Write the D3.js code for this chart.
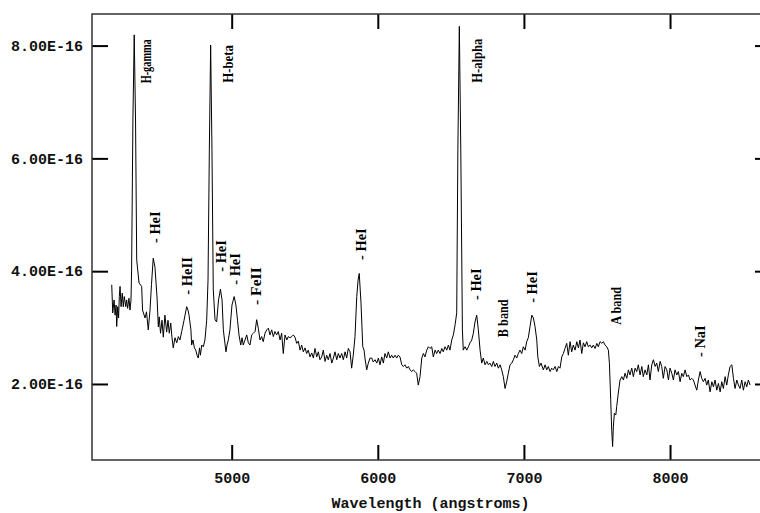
<!DOCTYPE html>
<html>
<head>
<meta charset="utf-8">
<script src="https://cdn.jsdelivr.net/npm/d3@7/dist/d3.min.js"></script>
<style>
  html, body { margin: 0; padding: 0; background: #fff; }
  svg { display: block; }
</style>
</head>
<body>
<svg id="chart" width="760" height="513"></svg>
<script>
// ---- DATA ----
// Wavelength (angstroms)
const wavelengths = [
4179,4186,4195,4202,4209,4213,4220,4226,4231,4236,4243,4251,4258,4265,4275,4281,4288,4297,4304,4311,
4315,4324,4333,4342,4350,4366,4384,4390,4407,4417,4429,4441,4451,4463,4475,4489,4498,4504,4513,4523,
4532,4543,4555,4564,4573,4583,4591,4600,4612,4624,4635,4646,4658,4674,4692,4701,4708,4721,4726,4735,
4745,4754,4763,4771,4780,4786,4795,4806,4817,4829,4838,4847,4856,4865,4874,4886,4897,4910,4923,4934,
4943,4951,4961,4968,4977,4988,5002,5017,5029,5040,5050,5062,5071,5079,5091,5103,5114,5125,5137,5149,
5160,5171,5182,5194,5205,5216,5228,5240,5251,5262,5274,5285,5296,5308,5319,5331,5342,5353,5365,5377,
5387,5399,5411,5422,5433,5445,5456,5468,5479,5490,5502,5513,5524,5536,5548,5559,5570,5582,5593,5604,
5616,5627,5639,5650,5661,5673,5685,5696,5707,5719,5730,5741,5753,5764,5776,5787,5798,5810,5821,5832,
5844,5856,5865,5873,5885,5897,5906,5912,5924,5935,5947,5958,5969,5981,5993,6004,6015,6027,6038,6049,
6061,6072,6084,6095,6106,6118,6129,6140,6152,6164,6175,6186,6198,6209,6221,6232,6243,6255,6266,6277,
6289,6301,6312,6323,6335,6346,6357,6369,6380,6392,6403,6414,6426,6438,6448,6460,6472,6483,6494,6506,
6517,6529,6540,6548,6558,6568,6579,6585,6597,6609,6620,6631,6643,6654,6665,6677,6688,6700,6711,6722,
6734,6746,6757,6768,6780,6791,6802,6814,6825,6837,6848,6859,6871,6882,6893,6905,6917,6928,6939,6951,
6962,6973,6985,6996,7008,7019,7030,7042,7054,7065,7076,7088,7095,7106,7117,7133,7145,7156,7167,7179,
7190,7201,7213,7225,7236,7247,7259,7270,7281,7293,7304,7316,7327,7338,7350,7362,7373,7384,7396,7407,
7418,7430,7441,7453,7464,7475,7487,7499,7509,7521,7533,7544,7555,7567,7578,7585,7594,7601,7607,7612,
7619,7629,7635,7646,7658,7670,7681,7692,7704,7715,7726,7738,7749,7761,7772,7783,7795,7807,7817,7829,
7841,7852,7863,7875,7886,7898,7909,7920,7932,7943,7954,7966,7978,7989,8000,8012,8023,8034,8046,8057,
8069,8080,8091,8103,8115,8126,8137,8149,8160,8171,8183,8194,8206,8217,8228,8240,8251,8262,8274,8286,
8297,8308,8320,8331,8343,8354,8365,8377,8388,8399,8411,8423,8434,8445,8457,8468,8479,8491,8502,8514,
8525,8536,8548
];
// Flux, in units of 1e-16
const fluxes = [
3.76,3.26,3.49,3.22,3.40,3.02,3.37,3.17,3.55,3.73,3.37,3.61,3.37,3.55,3.37,3.49,3.34,3.52,3.31,3.49,
4.02,6.68,8.19,6.68,4.20,3.79,3.73,3.31,3.17,3.28,2.96,3.31,3.76,4.23,4.07,3.54,3.01,3.19,2.90,3.13,
2.83,3.22,2.92,3.13,2.90,3.08,2.83,2.64,2.82,2.73,2.84,2.78,2.93,3.13,3.37,3.31,3.22,2.96,2.69,2.78,
2.64,2.60,2.51,2.46,2.64,2.51,2.69,2.66,2.78,3.13,3.84,6.15,8.01,6.15,3.67,3.14,3.10,3.49,3.68,3.49,
2.96,2.78,2.57,2.69,2.78,2.96,3.40,3.55,3.40,3.13,2.87,2.69,2.82,2.69,2.78,2.87,2.73,2.69,2.87,2.90,
2.93,3.14,2.99,2.78,2.84,2.75,2.90,2.96,2.99,2.87,2.96,2.84,2.93,2.87,2.93,2.78,2.90,2.54,2.87,2.78,
2.84,2.82,2.84,2.87,2.83,2.72,2.76,2.60,2.69,2.57,2.64,2.54,2.60,2.48,2.55,2.46,2.63,2.48,2.57,2.43,
2.48,2.60,2.40,2.51,2.43,2.54,2.37,2.46,2.57,2.43,2.54,2.46,2.54,2.43,2.57,2.46,2.63,2.57,2.28,2.51,
2.84,3.55,3.84,3.96,3.44,2.66,2.60,2.46,2.25,2.37,2.46,2.46,2.39,2.43,2.37,2.46,2.34,2.48,2.37,2.54,
2.46,2.57,2.46,2.51,2.46,2.51,2.46,2.51,2.48,2.34,2.31,2.34,2.28,2.31,2.25,2.22,2.25,2.22,2.19,1.98,
2.13,2.46,2.54,2.48,2.60,2.66,2.63,2.66,2.48,2.60,2.54,2.60,2.54,2.63,2.57,2.66,2.60,2.69,2.60,2.78,
2.87,3.05,3.26,6.15,8.34,6.15,2.96,2.60,2.66,2.60,2.66,2.73,2.78,2.90,3.10,3.22,2.96,2.60,2.37,2.46,
2.34,2.40,2.34,2.37,2.31,2.40,2.31,2.37,2.28,2.34,2.25,2.13,1.92,2.04,2.19,2.34,2.37,2.43,2.51,2.46,
2.54,2.60,2.54,2.66,2.60,2.75,2.82,3.02,3.22,3.17,3.02,2.78,2.48,2.31,2.37,2.25,2.34,2.25,2.31,2.22,
2.28,2.25,2.31,2.22,2.31,2.28,2.48,2.54,2.63,2.72,2.51,2.75,2.57,2.69,2.60,2.75,2.64,2.78,2.54,2.73,
2.66,2.75,2.66,2.69,2.64,2.69,2.63,2.72,2.66,2.75,2.72,2.75,2.69,2.66,2.60,2.37,1.72,1.18,0.89,1.24,
1.48,1.45,1.60,1.84,2.07,2.13,2.07,2.19,2.10,2.25,2.16,2.28,2.13,2.28,2.22,2.34,2.16,2.31,2.13,2.25,
2.16,2.34,2.07,2.34,2.43,2.31,2.37,2.22,2.40,2.31,2.10,2.31,2.25,2.07,2.28,2.19,2.07,2.25,2.16,2.22,
2.04,2.19,2.13,2.25,2.13,2.16,2.07,2.10,2.07,1.98,1.89,2.07,2.22,2.10,2.04,2.10,1.98,2.07,1.86,2.04,
1.95,2.07,1.89,2.01,1.86,2.04,1.92,2.13,1.98,2.16,2.31,2.34,2.10,1.92,2.07,1.98,1.92,2.07,1.89,2.04,
1.95,2.07,1.98
];

// Line identifications: text, wavelength of label centre, flux at label start
const lineLabels = ["H-gamma","- HeI","- HeII","H-beta","- HeI","- HeI","- FeII","- HeI","H-alpha","- HeI","B band","- HeI","A band","- NaI"];
const labelWavelengths = [4417,4478,4697,4978,4930,5023,5166,5882,6679,6672,6857,7056,7631,8206];
const labelFluxes = [7.33,4.50,3.58,7.34,3.99,3.76,3.40,4.20,7.34,3.49,2.83,3.44,3.05,2.48];

const xTicks = [5000,6000,7000,8000];
const xTickLabels = ["5000","6000","7000","8000"];
const yTicks = [2,4,6,8];
const yTickLabels = ["2.00E-16","4.00E-16","6.00E-16","8.00E-16"];
const xTitle = "Wavelength (angstroms)";

// ---- LAYOUT ----
const svg = d3.select("#chart");
const W = 760, H = 513;
const mL = 92, mT = 14, mR = 771, mB = 460;

svg.append("rect").attr("width", W).attr("height", H).attr("fill", "#fff");

const x = d3.scaleLinear().domain([4044, 8691]).range([mL, mR]);
const y = d3.scaleLinear().domain([0.652, 8.56]).range([mB, mT]);

const tickFont = "'Liberation Mono', 'DejaVu Sans Mono', monospace";

// Axes (inward ticks on all four sides)
const gB = svg.append("g").attr("transform", `translate(0,${mB})`)
  .call(d3.axisBottom(x).tickValues(xTicks).tickSize(-15).tickPadding(12)
        .tickFormat((d, i) => xTickLabels[i]));
const gT = svg.append("g").attr("transform", `translate(0,${mT})`)
  .call(d3.axisTop(x).tickValues(xTicks).tickSize(-15).tickFormat(""));
const gL = svg.append("g").attr("transform", `translate(${mL},0)`)
  .call(d3.axisLeft(y).tickValues(yTicks).tickSize(-16).tickPadding(9)
        .tickFormat((d, i) => yTickLabels[i]));
const gR = svg.append("g").attr("transform", `translate(${mR},0)`)
  .call(d3.axisRight(y).tickValues(yTicks).tickSize(-16).tickFormat(""));

[gB, gT, gL, gR].forEach(g => {
  g.select(".domain").remove();
  g.selectAll(".tick line").attr("stroke", "#000").attr("stroke-width", 2);
  g.selectAll(".tick text")
    .attr("fill", "#111")
    .style("font-family", tickFont)
    .style("font-weight", "bold")
    .style("font-size", "15px");
});

// Frame
svg.append("rect")
  .attr("x", mL).attr("y", mT)
  .attr("width", mR - mL).attr("height", mB - mT)
  .attr("fill", "none").attr("stroke", "#333").attr("stroke-width", 1.5);

// Spectrum
const n = Math.min(wavelengths.length, fluxes.length);
const pts = wavelengths.slice(0, n).map((w, i) => [w, fluxes[i]]);
svg.append("path")
  .datum(pts)
  .attr("fill", "none")
  .attr("stroke", "#000")
  .attr("stroke-width", 1)
  .attr("stroke-linejoin", "round")
  .attr("d", d3.line().x(d => x(d[0])).y(d => y(d[1])));

// Line labels (rotated, reading bottom to top)
lineLabels.forEach((t, i) => {
  svg.append("text")
    .attr("transform", `translate(${x(labelWavelengths[i])},${y(labelFluxes[i])}) rotate(-90)`)
    .attr("dy", "0.33em")
    .attr("text-anchor", "start")
    .attr("textLength", t.length * 6.3)
    .attr("lengthAdjust", "spacingAndGlyphs")
    .style("font-family", "'Liberation Serif', 'DejaVu Serif', serif")
    .style("font-weight", "bold")
    .style("font-size", "15px")
    .attr("fill", "#000")
    .text(t);
});

// X title
svg.append("text")
  .attr("x", (mL + mR) / 2 - 1)
  .attr("y", 508)
  .attr("text-anchor", "middle")
  .style("font-family", tickFont)
  .style("font-weight", "bold")
  .style("font-size", "15px")
  .attr("fill", "#111")
  .text(xTitle);
</script>
</body>
</html>
